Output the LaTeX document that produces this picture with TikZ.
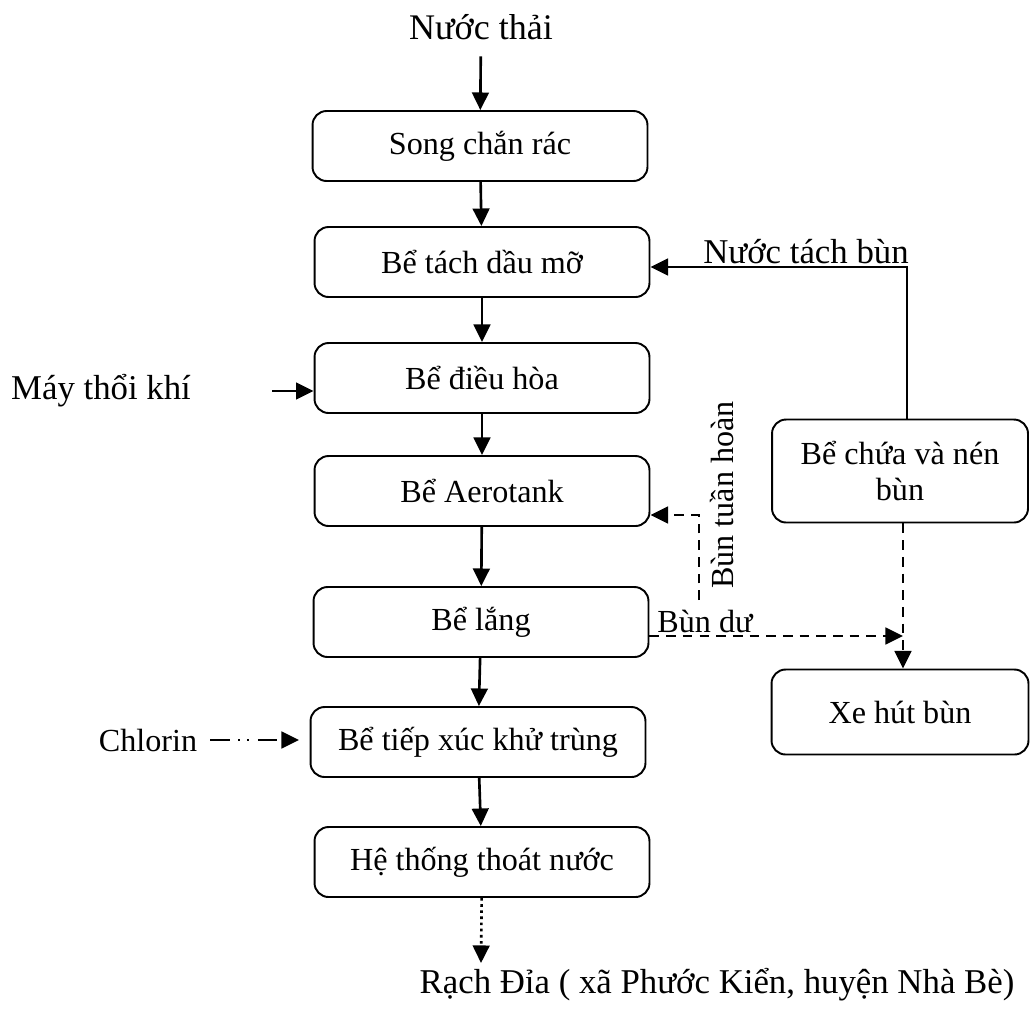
\documentclass[tikz,border=0pt]{standalone}
\usepackage{fontspec}
\setmainfont{Liberation Serif}
\usetikzlibrary{arrows.meta}

\begin{document}
\begin{tikzpicture}
  [x=0.02cm,y=-0.02cm,
   every node/.style={font=\fontsize{18.3}{21}\selectfont},
   biglabel/.style={font=\fontsize{19.8}{24}\selectfont},
   box/.style={draw,line width=1.1pt,rounded corners=8pt,minimum width=6.7cm,minimum height=1.4cm,align=center},
   flow/.style={line width=1.5pt,-{Triangle[length=10pt,width=9.5pt]}},
   sludge/.style={flow,dash pattern=on 5.5pt off 4pt}]
  \useasboundingbox (0,0) rectangle (1030,1012);

  \node[biglabel,font=\fontsize{20.5}{24}\selectfont] (in) at (481,27) {Nước thải};
  \node[box] (s1) at (480,146) {Song chắn rác};
  \node[box] (s2) at (482,262) {Bể tách dầu mỡ};
  \node[box] (s3) at (482,378) {Bể điều hòa};
  \node[box] (s4) at (482,491) {Bể Aerotank};
  \node[box] (s5) at (481,622) {Bể lắng};
  \node[box] (s6) at (478,742) {Bể tiếp xúc khử trùng};
  \node[box] (s7) at (482,862) {Hệ thống thoát nước};
  \node[box,minimum width=5.12cm,minimum height=2.06cm] (s8) at (900,471) {Bể chứa và nén\\bùn};
  \node[box,minimum width=5.14cm,minimum height=1.7cm] (s9) at (900,712) {Xe hút bùn};

  \node[biglabel] (air) at (101,391) {Máy thổi khí};
  \node (chl) at (148,740) {Chlorin};
  \node[biglabel] (out) at (717,985) {Rạch Đỉa ( xã Phước Kiển, huyện Nhà Bè)};
  \node[biglabel] at (806,252) {Nước tách bùn};
  \node at (705,621) {Bùn dư};
  \node[rotate=90] at (722,495) {Bùn tuần hoàn};

  \coordinate (sea) at (481,963);
  \coordinate (ret) at (699,600);
  \coordinate (waste) at (903,636);

  \draw[flow,shorten <=6pt] (in) -- (s1);
  \foreach \from/\to in {s1/s2,s2/s3,s3/s4,s4/s5,s5/s6,s6/s7}
    \draw[flow] (\from) -- (\to);
  \draw[flow,dotted] (s7) -- (sea);

  \draw[flow,shorten <=1.5cm] (air) -- (air -| s3.west);
  \draw[flow,dash pattern=on 11pt off 5pt on 1pt off 4pt on 1pt off 5pt,shorten <=4pt,shorten >=6pt] (chl) -- (chl -| s6.west);

  \draw[flow] ([xshift=0.14cm]s8.north) |- ([yshift=-0.1cm]s2.east);
  \draw[sludge] (ret) |- ([yshift=-0.48cm]s4.east);
  \draw[sludge] (s5.east |- waste) -- (waste);
  \draw[sludge] ([xshift=0.06cm]s8.south) -- ([xshift=0.06cm]s9.north);

\end{tikzpicture}
\end{document}
